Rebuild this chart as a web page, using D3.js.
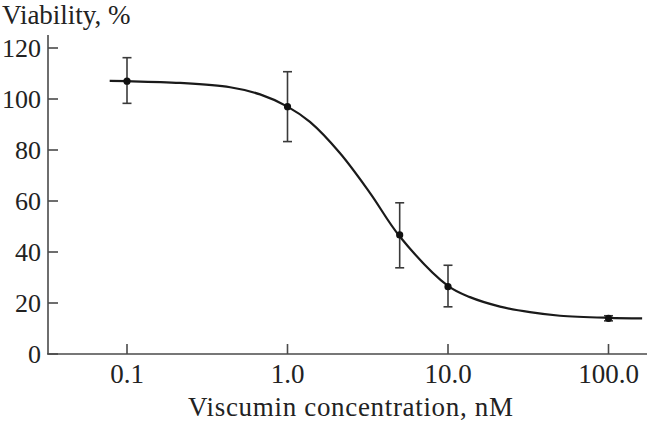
<!DOCTYPE html>
<html>
<head>
<meta charset="utf-8">
<script src="https://cdn.jsdelivr.net/npm/d3@7"></script>
<style>
  body { margin: 0; background: #fff; }
  text { font-family: "Liberation Serif", "DejaVu Serif", serif; fill: #222; }
</style>
</head>
<body>
<div id="chart"></div>
<script>
// measured points (mean and error bar ends)
const concentrations = [0.1, 1, 5, 10, 100];
const viability = [107, 97, 46.7, 26.4, 14.0];
const errLow = [98.3, 83.3, 33.8, 18.5, 13.0];
const errHigh = [116.2, 110.7, 59.3, 34.8, 15.0];

// fitted curve
const curveX = [0.078, 0.1, 0.214, 0.439, 0.675, 1.0, 1.38, 2.12, 3.27, 5.02, 10, 13.7, 21.1, 32.4, 49.9, 100, 162];
const curveY = [107.1, 107, 106.3, 104.6, 101.8, 97, 91.0, 78.8, 63.1, 46.0, 26.7, 22.3, 18.6, 16.4, 15.0, 14.2, 14.0];

const xTicks = [0.1, 1, 10, 100];
const xTickLabels = ["0.1", "1.0", "10.0", "100.0"];
const yTicks = [0, 20, 40, 60, 80, 100, 120];

const width = 647, height = 424;

const svg = d3.select("#chart").append("svg")
  .attr("width", width)
  .attr("height", height);

const x = d3.scaleLog().domain([0.1, 100]).range([127, 608.5]);
const y = d3.scaleLinear().domain([0, 120]).range([354, 48]);

const axisColor = "#4a4a4a";

// y axis line + ticks
svg.append("line")
  .attr("x1", 48).attr("x2", 48)
  .attr("y1", 35).attr("y2", y(0))
  .attr("stroke", axisColor).attr("stroke-width", 1.6);

svg.selectAll(".ytick")
  .data(yTicks)
  .enter()
  .append("line")
  .attr("x1", 48).attr("x2", 58)
  .attr("y1", (d) => y(d)).attr("y2", (d) => y(d))
  .attr("stroke", axisColor).attr("stroke-width", 1.6);

svg.selectAll(".ylabel")
  .data(yTicks)
  .enter()
  .append("text")
  .attr("x", 41)
  .attr("y", (d) => y(d))
  .attr("dy", "0.35em")
  .attr("text-anchor", "end")
  .attr("font-size", 26)
  .text((d) => d);

// x axis line + ticks
svg.append("line")
  .attr("x1", 47).attr("x2", 647)
  .attr("y1", y(0)).attr("y2", y(0))
  .attr("stroke", axisColor).attr("stroke-width", 1.6);

svg.selectAll(".xtick")
  .data(xTicks)
  .enter()
  .append("line")
  .attr("x1", (d) => x(d)).attr("x2", (d) => x(d))
  .attr("y1", y(0)).attr("y2", y(0) - 10)
  .attr("stroke", axisColor).attr("stroke-width", 1.6);

svg.selectAll(".xlabel")
  .data(xTicks)
  .enter()
  .append("text")
  .attr("x", (d) => x(d))
  .attr("y", 383)
  .attr("text-anchor", "middle")
  .attr("font-size", 27)
  .text((d, i) => xTickLabels[i]);

// axis titles
svg.append("text")
  .attr("x", 2).attr("y", 24)
  .attr("font-size", 27)
  .text("Viability, %");

svg.append("text")
  .attr("x", 188).attr("y", 416)
  .attr("font-size", 27)
  .attr("textLength", 325)
  .text("Viscumin concentration, nM");

// fitted curve
const line = d3.line()
  .x((d, i) => x(curveX[i]))
  .y((d) => y(d))
  .curve(d3.curveCatmullRom.alpha(0.5));

svg.append("path")
  .datum(curveY)
  .attr("d", line)
  .attr("fill", "none")
  .attr("stroke", "#1a1a1a")
  .attr("stroke-width", 2.2);

// error bars
const points = concentrations.map((c, i) => ({
  c: c, v: viability[i], lo: errLow[i], hi: errHigh[i]
}));

const errColor = "#3a3a3a";
const bars = svg.selectAll(".err").data(points).enter().append("g");

bars.append("line")
  .attr("x1", (d) => x(d.c)).attr("x2", (d) => x(d.c))
  .attr("y1", (d) => y(d.lo)).attr("y2", (d) => y(d.hi))
  .attr("stroke", errColor).attr("stroke-width", 1.6);

bars.append("line")
  .attr("x1", (d) => x(d.c) - 4.5).attr("x2", (d) => x(d.c) + 4.5)
  .attr("y1", (d) => y(d.hi)).attr("y2", (d) => y(d.hi))
  .attr("stroke", errColor).attr("stroke-width", 1.6);

bars.append("line")
  .attr("x1", (d) => x(d.c) - 4.5).attr("x2", (d) => x(d.c) + 4.5)
  .attr("y1", (d) => y(d.lo)).attr("y2", (d) => y(d.lo))
  .attr("stroke", errColor).attr("stroke-width", 1.6);

bars.append("circle")
  .attr("cx", (d) => x(d.c))
  .attr("cy", (d) => y(d.v))
  .attr("r", 3.6)
  .attr("fill", "#111");
</script>
</body>
</html>
